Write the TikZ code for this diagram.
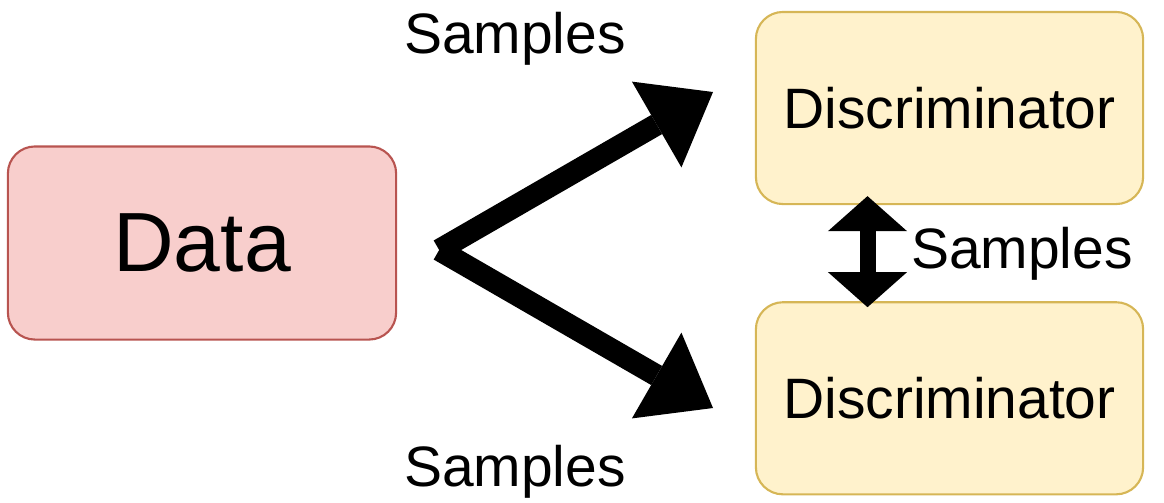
\documentclass[tikz,border=0pt]{standalone}
\usepackage{fontspec}
\setmainfont{Liberation Sans}
\usetikzlibrary{positioning}
\usetikzlibrary{arrows.meta}
\usetikzlibrary{calc}

\definecolor{datafill}{HTML}{F8CECC}
\definecolor{datadraw}{HTML}{B85450}
\definecolor{discfill}{HTML}{FFF2CC}
\definecolor{discdraw}{HTML}{D6B656}

\begin{document}
\begin{tikzpicture}[ x = 0.01cm
                   , y = -0.01cm
                   , font = \fontsize{16.2}{19}\selectfont
                   , >={Triangle[length=0.65cm, width=0.99cm, line width=0pt]}
                   , every node/.style = { rectangle
                                         , rounded corners = 0.27cm
                                         , align = center
                                         , line width = 0.6pt }
                   ]
  \useasboundingbox (0,0) rectangle (1164,502);

  %%
  %% Nodes
  %%
  \tikzset{ datanode/.style={fill=datafill, draw=datadraw, minimum width=3.88cm, minimum height=1.93cm, font=\fontsize{23.9}{28}\selectfont}
          , discnode/.style={fill=discfill, draw=discdraw, minimum width=3.87cm, minimum height=1.92cm}
          , samplelabel/.style={inner sep=0pt}
          }

  \node (data) [datanode] at (202,243) {Data};
  \node (discup) [discnode] at (949.5,108) {Discriminator};
  \node (discdown) [discnode, below = 0.96cm of discup] {Discriminator};

  \coordinate (split) at ($(data.east)+(42,7)$);
  \coordinate (uptip) at (713,92);
  \coordinate (downtip) at (713,408);
  \coordinate (swaptop) at ($(discup.south)+(-82,-9)$);
  \coordinate (swapbot) at ($(discdown.north)+(-82,6)$);

  %%
  %% Arrows
  %%
  \draw[->, line width=0.22cm] (split) -- (uptip);
  \draw[->, line width=0.22cm] (split) -- (downtip);
  \draw[{Triangle[length=0.35cm, width=0.79cm, line width=0pt]}-{Triangle[length=0.35cm, width=0.79cm, line width=0pt]}, line width=0.16cm] (swaptop) -- (swapbot);

  % Labels.
  \node (labelup) [samplelabel, anchor=base] at (515,53) {Samples};
  \node (labeldown) [samplelabel, anchor=base] at (515,486) {Samples};
  \node (labelswap) [samplelabel, anchor=base west] at (910,268) {Samples};
\end{tikzpicture}
\end{document}
